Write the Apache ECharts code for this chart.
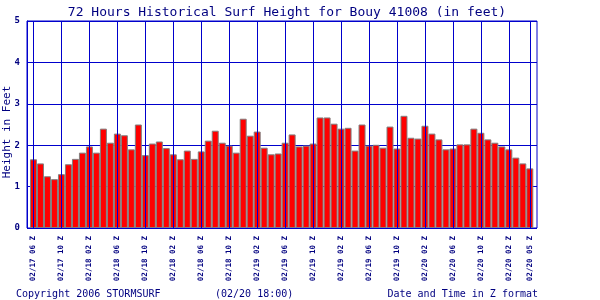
<!DOCTYPE html>
<html>
<head>
<meta charset="utf-8">
<script src="https://cdn.jsdelivr.net/npm/echarts@6/dist/echarts.min.js"></script>
<style>
html,body{margin:0;padding:0;background:#fff;}
#c{width:600px;height:300px;}
</style>
</head>
<body>
<div id="c"></div>
<script>
// Surf height (feet), 72 hourly readings
const heights = [
  1.66, 1.56, 1.25, 1.18, 1.30, 1.54, 1.67, 1.82, 1.97, 1.82,
  2.40, 2.06, 2.28, 2.24, 1.90, 2.50, 1.76, 2.04, 2.09, 1.93,
  1.78, 1.66, 1.87, 1.67, 1.85, 2.11, 2.35, 2.06, 1.99, 1.82,
  2.64, 2.23, 2.33, 1.94, 1.78, 1.80, 2.06, 2.26, 1.97, 1.99,
  2.04, 2.67, 2.67, 2.52, 2.40, 2.42, 1.87, 2.50, 1.99, 2.01,
  1.94, 2.45, 1.92, 2.71, 2.18, 2.16, 2.47, 2.28, 2.14, 1.90,
  1.92, 2.02, 2.02, 2.40, 2.30, 2.14, 2.06, 1.97, 1.90, 1.70,
  1.56, 1.44
];
const categories = heights.map((v, i) => 'h' + i);
const tickIndices = [0, 4, 8, 12, 16, 20, 24, 28, 32, 36, 40, 44, 48, 52, 56, 60, 64, 68, 71];
const tickLabels = [
  '02/17 06 Z', '02/17 10 Z', '02/18 02 Z', '02/18 06 Z', '02/18 10 Z',
  '02/18 02 Z', '02/18 06 Z', '02/18 10 Z', '02/19 02 Z', '02/19 06 Z',
  '02/19 10 Z', '02/19 02 Z', '02/19 06 Z', '02/19 10 Z', '02/20 02 Z',
  '02/20 06 Z', '02/20 10 Z', '02/20 02 Z', '02/20 05 Z'
];
const yTicks = [0, 1, 2, 3, 4, 5];

const labelMap = {};
tickIndices.forEach((idx, k) => { labelMap[idx] = tickLabels[k]; });

const BLUE = '#0000CC';
const NAVY = '#000080';
const MONO = '"DejaVu Sans Mono", "Liberation Mono", monospace';

const chart = echarts.init(document.getElementById('c'), null, {renderer: 'canvas'});
chart.setOption({
  animation: false,
  backgroundColor: '#ffffff',
  title: {
    text: '72 Hours Historical Surf Height for Bouy 41008 (in feet)',
    left: 282, top: 1, textAlign: 'center',
    textStyle: {fontFamily: MONO, fontSize: 13, fontWeight: 'normal', color: NAVY}
  },
  grid: [
    {left: 27, right: 63, top: 21, bottom: 72, show: true, borderColor: BLUE, borderWidth: 1, backgroundColor: 'transparent'},
    {left: 30, right: 66.7, top: 21, bottom: 72}
  ],
  xAxis: [
    {gridIndex: 0, type: 'value', min: 0, max: 1, show: false},
    {
      gridIndex: 1, type: 'category', data: categories, boundaryGap: true,
      axisLine: {show: false}, axisTick: {show: false}, splitLine: {show: false},
      axisLabel: {
        interval: (idx) => labelMap[idx] !== undefined,
        formatter: (val, idx) => labelMap[idx] || '',
        rotate: 90, margin: 8, color: NAVY,
        fontFamily: MONO, fontSize: 7.5, fontWeight: 'bold'
      }
    }
  ],
  yAxis: [
    {
      gridIndex: 0, type: 'value', min: yTicks[0], max: yTicks[yTicks.length - 1], interval: 1,
      axisLine: {show: true, lineStyle: {color: BLUE, width: 1}},
      axisTick: {show: false},
      splitLine: {show: true, lineStyle: {color: BLUE, width: 1}},
      axisLabel: {color: NAVY, fontFamily: MONO, fontSize: 9, fontWeight: 'bold', margin: 7}
    },
    {gridIndex: 1, type: 'value', min: 0, max: 5, show: false}
  ],
  graphic: [
    {type: 'text', rotation: Math.PI / 2, x: 2, y: 132,
     style: {text: 'Height in Feet', fill: NAVY, font: '11px ' + MONO, textAlign: 'center', textVerticalAlign: 'top'}},
    {type: 'text', x: 16, y: 289,
     style: {text: 'Copyright 2006 STORMSURF', fill: NAVY, font: '10px ' + MONO}},
    {type: 'text', x: 215, y: 289,
     style: {text: '(02/20 18:00)', fill: NAVY, font: '10px ' + MONO}},
    {type: 'text', x: 538, y: 289,
     style: {text: 'Date and Time in Z format', fill: NAVY, font: '10px ' + MONO, textAlign: 'right'}}
  ],
  series: [
    {
      type: 'line', xAxisIndex: 1, yAxisIndex: 1, data: [], z: 1, silent: true,
      markLine: {
        silent: true, symbol: ['none', 'none'], animation: false,
        label: {show: false},
        lineStyle: {color: BLUE, type: 'solid', width: 1},
        data: tickIndices.map(i => ({xAxis: i}))
      }
    },
    {
      type: 'bar', xAxisIndex: 1, yAxisIndex: 1, data: heights, z: 3,
      barCategoryGap: '0%',
      itemStyle: {color: '#FF0000', borderColor: '#808080', borderWidth: 1}
    }
  ]
});
</script>
</body>
</html>
